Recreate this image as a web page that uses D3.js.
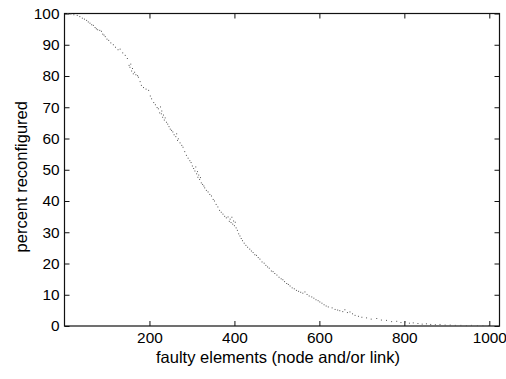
<!DOCTYPE html>
<html>
<head>
<meta charset="utf-8">
<script src="https://cdn.jsdelivr.net/npm/d3@7"></script>
<style>
  body { margin: 0; background: #fff; }
  svg { display: block; }
  .tick text { font-family: "Liberation Sans", Arial, sans-serif; font-size: 15.4px; fill: #000; }
  .lbl { font-family: "Liberation Sans", Arial, sans-serif; font-size: 16.5px; fill: #000; }
</style>
</head>
<body>
<div id="chart"></div>
<script>
// faulty elements (x) and percent reconfigured (y)
const faultyElements = [
  8, 15, 22, 30, 36, 42, 47, 52, 56, 60, 64, 68, 72, 75, 78, 83, 87, 90, 93, 96,
  100, 104, 109, 115, 120, 126, 131, 137, 143, 148,
  152, 154, 156, 158, 160, 162, 165, 168, 172, 174, 178, 181, 186, 192, 198, 202, 205, 210, 214, 218,
  221, 224, 226, 228, 229, 231, 233, 235, 237, 240, 243, 246, 249, 252, 255, 258, 262, 264, 266, 268,
  272, 276, 279, 283, 287, 291, 295, 298, 301, 304, 307, 309, 311, 313, 314, 316, 318, 320, 322, 325,
  328, 330, 334, 338, 342, 346, 350, 353, 357, 361, 365, 369, 373, 377, 381, 385, 388, 390, 392, 394,
  396, 398, 400, 402, 404, 407, 410, 413, 416, 419,
  423, 427, 431, 436, 440, 444, 448, 452, 456, 460, 465, 470, 474, 478, 482, 487, 491, 495, 500, 505,
  510, 514, 518, 523, 527, 531, 536, 541, 546, 551, 556, 561, 566, 571, 576, 582, 587, 592, 597, 601,
  606, 611, 616, 621,
  630, 637, 643, 648, 655, 660, 666, 672, 678, 684, 692, 700, 711, 722, 735, 746, 758, 770, 782, 792,
  802, 812, 821, 832, 842, 852, 862, 873, 884, 896, 908, 920, 933, 946, 958, 972, 985, 998
];
const percentReconfigured = [
  100, 99.8, 99.6, 99.4, 99, 98.5, 98.2, 97.8, 97.3, 96.9, 96.4, 96.2, 95.5, 95.1, 94.8, 94.6, 94.3, 93.4, 93.1, 92.6,
  91.8, 91.4, 90.6, 90, 89.2, 88.4, 88.6, 87.4, 86.6, 85.6,
  83.4, 82.8, 83.8, 81.6, 82.4, 80.7, 81.2, 80.4, 80.1, 79.6, 78.2, 77, 76.3, 75.8, 75.4, 73.6, 72.7, 71.5, 70.8, 69.9,
  69.5, 68.2, 70.1, 67.9, 68.8, 66.8, 67.5, 65.9, 66.6, 65.2, 64.6, 63.8, 63, 62.6, 62.1, 61.2, 60.6, 61.5, 59.4, 59.9,
  58.6, 57.8, 57.2, 55.8, 54.6, 53.7, 52.9, 52.3, 51.2, 50.4, 49.6, 50.9, 48.7, 49.4, 47.6, 48.3, 46.9, 47.5, 45.8, 45.3,
  44.8, 44.2, 43.4, 42.9, 42.1, 41.6, 40.5, 40, 38.9, 38.1, 37, 36.4, 35.8, 35.1, 34.6, 34.9, 33.5, 34.2, 33.1, 34.8,
  32.6, 33.6, 32.1, 33.2, 31.4, 30.6, 29.5, 28.8, 28, 27.3,
  26.5, 25.8, 25.2, 24.6, 24, 23.5, 22.8, 22.6, 21.9, 21.4, 20.5, 20.1, 19.4, 18.9, 18.5, 17.6, 17.4, 16.8, 16.3, 15.6,
  15.1, 14.8, 14.2, 13.6, 13.3, 12.8, 12.2, 11.9, 11.4, 11.1, 10.8, 10.5, 10.9, 10.1, 9.6, 9.3, 8.9, 8.4, 8.1, 7.7,
  7.3, 6.8, 6.4, 6.1,
  5.8, 5.3, 5.1, 4.9, 4.6, 5.2, 4.3, 4.5, 3.9, 3.4, 3.1, 2.8, 2.6, 2.2, 2.4, 1.9, 1.8, 1.4, 1.5, 1.1,
  1.3, 0.9, 1, 0.8, 0.6, 0.7, 0.5, 0.4, 0.5, 0.3, 0.3, 0.2, 0.2, 0.1, 0.2, 0.1, 0.1, 0.1
];
const xTicks = [200, 400, 600, 800, 1000];
const yTicks = [0, 10, 20, 30, 40, 50, 60, 70, 80, 90, 100];

const W = 506, H = 379;
const margin = { top: 13.5, right: 6.5, bottom: 53, left: 64.5 };
const width = W - margin.left - margin.right;
const height = H - margin.top - margin.bottom;

const svg = d3.select('#chart').append('svg')
  .attr('width', W)
  .attr('height', H);

const g = svg.append('g')
  .attr('transform', `translate(${margin.left},${margin.top})`);

const x = d3.scaleLinear().domain([0, 1024]).range([0, width]);
const y = d3.scaleLinear().domain([0, 100]).range([height, 0]);

// inward ticks on all four sides
g.append('g')
  .attr('transform', `translate(0,${height})`)
  .call(d3.axisBottom(x).tickValues(xTicks).tickFormat(d3.format('d'))
    .tickSizeInner(-5).tickSizeOuter(0).tickPadding(6));
g.append('g')
  .call(d3.axisTop(x).tickValues(xTicks).tickSizeInner(-5).tickSizeOuter(0).tickFormat(''));
g.append('g')
  .call(d3.axisLeft(y).tickValues(yTicks).tickSizeInner(-5).tickSizeOuter(0).tickPadding(5));
g.append('g')
  .attr('transform', `translate(${width},0)`)
  .call(d3.axisRight(y).tickValues(yTicks).tickSizeInner(-5).tickSizeOuter(0).tickFormat(''));

g.selectAll('.domain').remove();
g.selectAll('.tick line').attr('stroke', '#111');

g.append('rect')
  .attr('width', width)
  .attr('height', height)
  .attr('fill', 'none')
  .attr('stroke', '#111')
  .attr('stroke-width', 1.2);

// dots
g.selectAll('rect.dot')
  .data(faultyElements)
  .join('rect')
  .attr('class', 'dot')
  .attr('x', d => x(d) - 0.5)
  .attr('y', (d, i) => y(percentReconfigured[i]) - 0.5)
  .attr('width', 1)
  .attr('height', 1)
  .attr('fill', '#555');

svg.append('text')
  .attr('class', 'lbl')
  .attr('x', margin.left + width / 2 - 4)
  .attr('y', 363)
  .attr('text-anchor', 'middle')
  .text('faulty elements (node and/or link)');

svg.append('text')
  .attr('class', 'lbl')
  .attr('transform', `translate(27,${margin.top + height / 2 + 7}) rotate(-90)`)
  .attr('text-anchor', 'middle')
  .text('percent reconfigured');
</script>
</body>
</html>
